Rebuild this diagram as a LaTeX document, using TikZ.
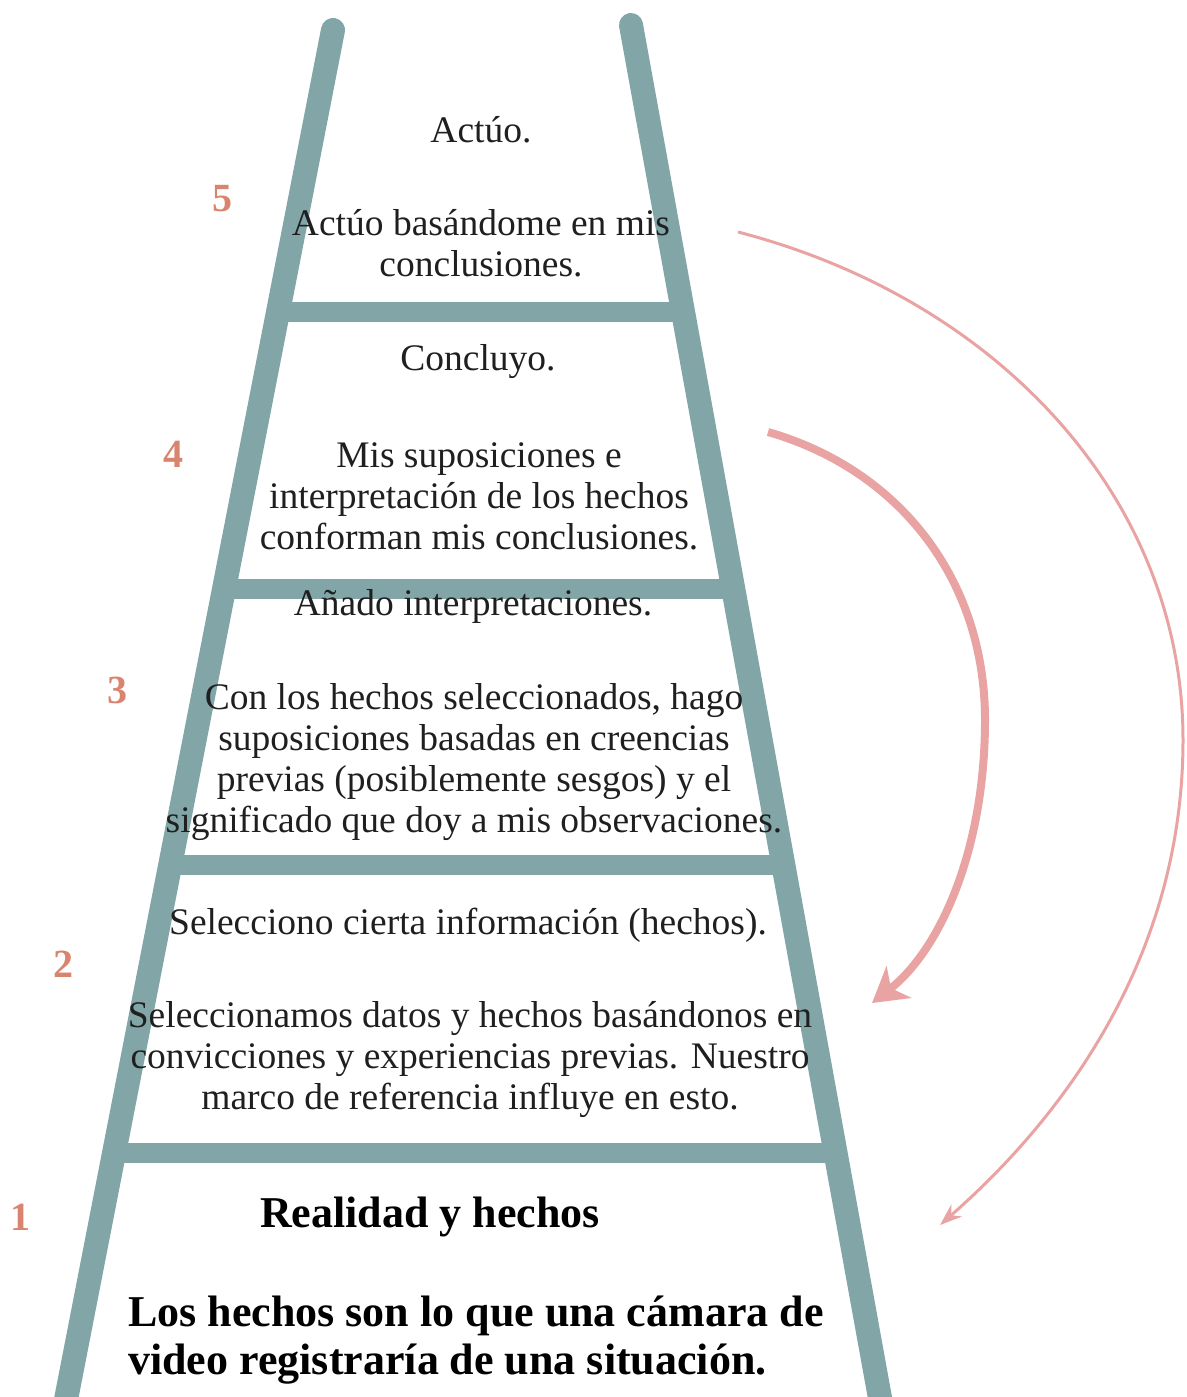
\documentclass[tikz,border=0pt]{standalone}
\usepackage{fontspec}
\setmainfont{Liberation Serif}
\usetikzlibrary{arrows.meta}
\definecolor{railc}{HTML}{82A6A7}
\definecolor{numc}{HTML}{D9846F}
\definecolor{arrc}{HTML}{E9A3A3}
\tikzset{
  rail/.style={line width=24pt, railc, line cap=round},
  rung/.style={line width=20pt, railc},
  txt/.style={font=\fontsize{37.5}{41}\selectfont, align=center, text=black!88, inner sep=0pt},
  boldtxt/.style={font=\fontsize{44}{48}\selectfont\bfseries, text=black, inner sep=0pt},
  num/.style={font=\fontsize{40}{40}\selectfont\bfseries, text=numc, inner sep=0pt},
  thinarr/.style={arrc, line width=3pt, -{Stealth[length=22pt,width=16pt]}},
  thickarr/.style={arrc, line width=8pt, -{Stealth[length=34pt,width=40pt,inset=10pt]}}
}
\begin{document}
\begin{tikzpicture}[x=1pt,y=-1pt]
\useasboundingbox (0,0) rectangle (1186,1397);
% rails
\coordinate (lt) at (333,30); \coordinate (lb) at (62,1420);
\coordinate (rt) at (631,25); \coordinate (rb) at (884,1420);
\draw[rail] (lt) -- (lb);
\draw[rail] (rt) -- (rb);
% rungs
\draw[rung] (277,312) -- (683,312);
\draw[rung] (220,589) -- (733,589);
\draw[rung] (167,865) -- (783,865);
\draw[rung] (110,1153) -- (836,1153);
% numbers
\node[num] (n5) at (222,199) {5};
\node[num] (n4) at (173,454) {4};
\node[num] (n3) at (117,690) {3};
\node[num] (n2) at (63,964) {2};
\node[num] (n1) at (20,1217) {1};
% texts
\node[txt] (t5a) at (481,130) {Actúo.};
\node[txt] (t5b) at (481,243) {Actúo basándome en mis\\conclusiones.};
\node[txt] (t4a) at (478,362) {Concluyo.};
\node[txt] (t4b) at (479,496) {Mis suposiciones e\\interpretación de los hechos\\conforman mis conclusiones.};
\node[txt] (t3a) at (473,606) {Añado interpretaciones.};
\node[txt] (t3b) at (474,762) {Con los hechos seleccionados, hago\\suposiciones basadas en creencias\\previas (posiblemente sesgos) y el\\significado que doy a mis observaciones.};
\node[txt] (t2a) at (468,925) {Selecciono cierta información (hechos).};
\node[txt] (t2b) at (470,1059) {Seleccionamos datos y hechos basándonos en\\convicciones y experiencias previas. Nuestro\\marco de referencia influye en esto.};
\node[boldtxt] (t1a) at (430,1217) {Realidad y hechos};
\node[boldtxt, align=left, anchor=west] (t1b) at (128,1340) {Los hechos son lo que una cámara de\\video registraría de una situación.};
% arrows
\coordinate (oa) at (738,232); \coordinate (om) at (1183,740); \coordinate (oe) at (940,1225);
\draw[thinarr] (oa) .. controls (1000,300) and (1183,500) .. (om)
  .. controls (1183,960) and (1060,1120) .. (oe);
\coordinate (ia) at (768,432); \coordinate (im) at (985,720); \coordinate (ie) at (872,1003);
\draw[thickarr] (ia) .. controls (900,470) and (985,580) .. (im)
  .. controls (985,850) and (940,950) .. (ie);
\end{tikzpicture}
\end{document}
